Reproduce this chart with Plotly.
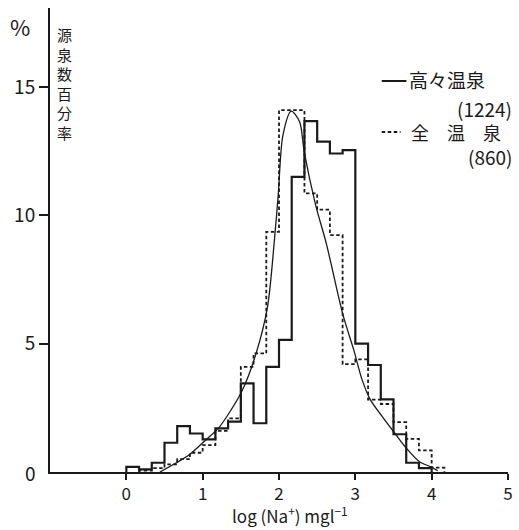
import plotly.graph_objects as go

# ---- data ----
bin_width = 1 / 6  # histogram class width in log(Na+) units
solid_start = 0.0  # 高々温泉 histogram first class lower edge
solid_pct = [0.2, 0.1, 0.36, 1.14, 1.79, 1.5, 1.27, 1.7, 1.96, 3.45, 1.9, 4.1,
             5.15, 11.5, 13.67, 12.87, 12.41, 12.54, 5.0, 4.17, 2.83, 1.47, 0.36, 0.15]
dashed_start = 1 / 6  # 全温泉 histogram first class lower edge
dashed_pct = [0.05, 0.15, 0.3, 0.5, 0.75, 1.05, 1.6, 2.09, 4.1, 4.62, 9.36,
              14.1, 14.1, 10.86, 10.22, 9.23, 4.2, 4.39, 2.82, 2.65, 1.94, 1.29, 0.84, 0.17]
curve_x = [0.44, 0.82, 1.04, 1.21, 1.51, 1.70, 1.85, 1.94, 1.99, 2.05, 2.16,
           2.27, 2.33, 2.48, 2.62, 2.84, 2.98, 3.09, 3.20, 3.37, 3.52, 3.67, 3.84, 3.99, 4.08]
curve_y = [0.0, 0.66, 1.25, 1.72, 3.13, 4.62, 6.44, 9.04, 10.8, 13.1, 14.06,
           13.65, 12.48, 10.4, 8.9, 6.1, 4.75, 3.58, 2.8, 2.09, 1.5, 0.92, 0.4, 0.2, 0.05]
x_ticks = [0, 1, 2, 3, 4, 5]
y_ticks = [5, 10, 15]
y_title = "源泉数百分率"

INK = "#1a1a1a"
FONT = "Noto Sans CJK JP"


def steps(start, vals):
    xs = [start, start]
    ys = [0, vals[0]]
    for i in range(1, len(vals)):
        xs.append(start + i * bin_width)
        ys.append(vals[i])
    xs.append(start + len(vals) * bin_width)
    ys.append(0)
    return xs, ys


fig = go.Figure()
sx, sy = steps(solid_start, solid_pct)
dx, dy = steps(dashed_start, dashed_pct)
fig.add_trace(go.Scatter(x=dx, y=dy, mode="lines", line_shape="hv",
                         line=dict(color=INK, width=1.8, dash="3.5px,2.5px"),
                         hoverinfo="skip", showlegend=False))
fig.add_trace(go.Scatter(x=sx, y=sy, mode="lines", line_shape="hv",
                         line=dict(color=INK, width=2.2),
                         hoverinfo="skip", showlegend=False))
fig.add_trace(go.Scatter(x=curve_x, y=curve_y, mode="lines", line_shape="spline",
                         line=dict(color=INK, width=1.3, smoothing=0.8),
                         hoverinfo="skip", showlegend=False))

L, R, T, B = 49.5, 6.3, 8, 58
W, H = 519, 530
PW, PH = W - L - R, H - T - B


def px(x):
    return (x - L) / PW


def py(y):
    return (H - B - y) / PH


ann = []


def text(t, x, y, size, xanchor="center", yanchor="middle"):
    ann.append(dict(text=t, x=px(x), y=py(y), xref="paper", yref="paper",
                    showarrow=False, xanchor=xanchor, yanchor=yanchor,
                    font=dict(family=FONT, size=size, color=INK)))


text("%", 19, 26, 22)
text("<br>".join(y_title), 64, 83, 15)
text("0", 30, 472, 19)
text("高々温泉", 411, 80, 19, "left")
text("(1224)", 519, 109, 19, "right")
text("全\u3000温\u3000泉", 413, 132, 18, "left")
text("(860)", 519, 157, 19, "right")
text("log (Na<sup>+</sup>) mgl<sup>−1</sup>", 292, 530, 17, "center", "bottom")

shapes = [
    dict(type="line", xref="paper", yref="paper", x0=px(385), x1=px(410),
         y0=py(81), y1=py(81), line=dict(color=INK, width=2)),
    dict(type="line", xref="paper", yref="paper", x0=px(385), x1=px(404),
         y0=py(132), y1=py(132), line=dict(color=INK, width=1.8, dash="3.5px,2.5px")),
]

fig.update_layout(
    width=W, height=H, margin=dict(l=L, r=R, t=T, b=B, pad=0),
    paper_bgcolor="white", plot_bgcolor="white",
    annotations=ann, shapes=shapes, showlegend=False,
    xaxis=dict(range=[-1, 5], tickvals=x_ticks, ticks="outside", ticklen=6,
               tickwidth=2, tickcolor=INK, showline=True, linewidth=2, linecolor=INK,
               showgrid=False, zeroline=False,
               tickfont=dict(family=FONT, size=17, color=INK)),
    yaxis=dict(range=[0, 18.08], tickvals=y_ticks, ticks="outside", ticklen=9,
               tickwidth=2, tickcolor=INK, showline=True, linewidth=2, linecolor=INK,
               showgrid=False, zeroline=False,
               tickfont=dict(family=FONT, size=19, color=INK)),
)

fig.write_html("out.html")
